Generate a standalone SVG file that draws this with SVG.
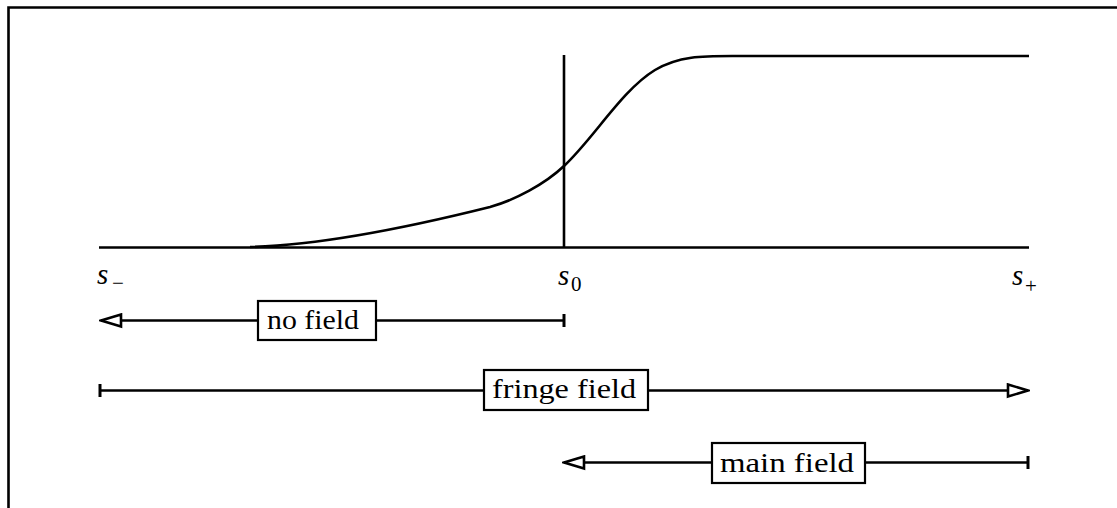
<svg xmlns="http://www.w3.org/2000/svg" width="1117" height="508" viewBox="0 0 1117 508">
<style>
.ln{stroke:#000;stroke-width:2.6;fill:none}
.bx{fill:#fff;stroke:#000;stroke-width:2.2}
.lb{font-family:"Liberation Serif","Times New Roman",Times,serif;font-size:28px;fill:#000}
.sym{font-family:"Liberation Serif","Times New Roman",Times,serif;font-style:italic;font-size:29px;fill:#000}
.sub{font-family:"Liberation Serif","Times New Roman",Times,serif;font-size:21px;fill:#000}
</style>
<defs>
<marker id="arr" viewBox="0 0 24 16" refX="22" refY="8" markerWidth="24" markerHeight="16" orient="auto-start-reverse" markerUnits="userSpaceOnUse">
<path d="M2,2 L22,8 L2,14 Z" fill="#fff" stroke="#000" stroke-width="2.6" stroke-linejoin="miter"/>
</marker>
<marker id="tick" viewBox="0 0 6 16" refX="3" refY="8" markerWidth="6" markerHeight="16" orient="auto" markerUnits="userSpaceOnUse">
<path d="M3,1.5 L3,14.5" stroke="#000" stroke-width="3"/>
</marker>
</defs>
<g id="frame">
<path d="M1117,7.5 L8.5,7.5 L8.5,508" class="ln" stroke-width="3"/>
</g>
<g id="plot">
<path d="M99,247.5 L1029,247.5" class="ln" stroke-width="3"/>
<path d="M564,55 L564,247.5" class="ln" stroke-width="2.8"/>
<path d="M250,247 C330,245 430,222 490,207 C515,200 545,184 564,166 C594,138 622,90 655,70 C680,55 705,56 740,56 L1029,56" class="ln" stroke-width="2.6"/>
</g>
<g id="labels">
<text class="sym" x="97" y="284">s</text><text class="sub" x="112" y="290">−</text>
<text class="sym" x="558" y="285">s</text><text class="sub" x="571" y="291">0</text>
<text class="sym" x="1012" y="285">s</text><text class="sub" x="1025" y="293">+</text>
</g>
<g id="connectors">
<path d="M564,320.5 L101,320.5" class="ln" marker-start="url(#tick)" marker-end="url(#arr)"/>
<path d="M100,390.5 L1028,390.5" class="ln" marker-start="url(#tick)" marker-end="url(#arr)"/>
<path d="M1028,462.5 L564,462.5" class="ln" marker-start="url(#tick)" marker-end="url(#arr)"/>
</g>
<g id="node-no-field">
<rect class="bx" x="258" y="301" width="118" height="39"/>
<text class="lb" x="267" y="329" textLength="92" lengthAdjust="spacingAndGlyphs">no field</text>
</g>
<g id="node-fringe-field">
<rect class="bx" x="484" y="370" width="164" height="40"/>
<text class="lb" x="492" y="398" textLength="144" lengthAdjust="spacingAndGlyphs">fringe field</text>
</g>
<g id="node-main-field">
<rect class="bx" x="712" y="443" width="153" height="40"/>
<text class="lb" x="720" y="472" textLength="134" lengthAdjust="spacingAndGlyphs">main field</text>
</g>
</svg>
